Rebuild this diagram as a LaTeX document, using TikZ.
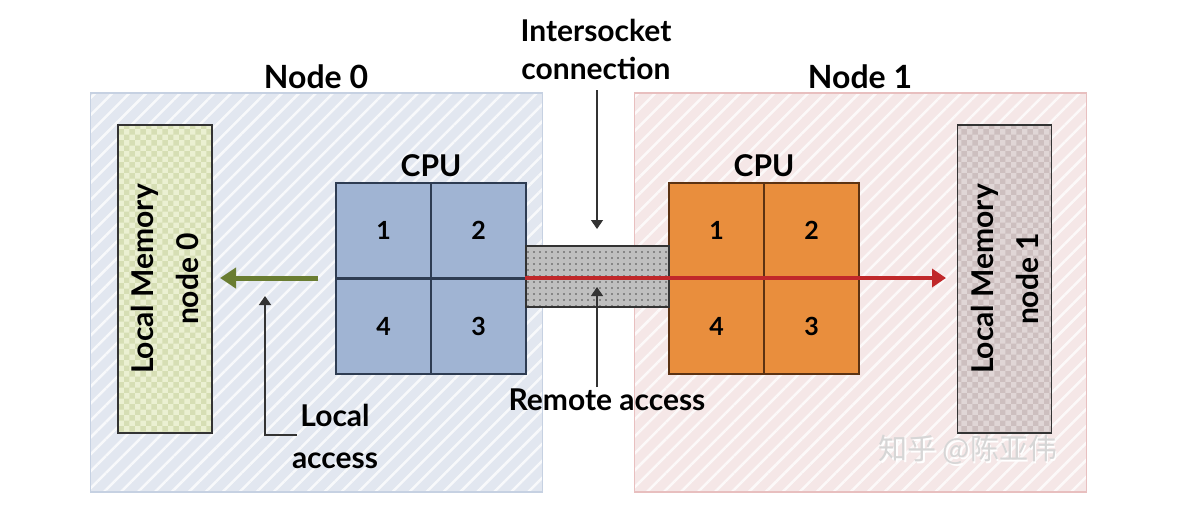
\documentclass[tikz,border=0pt]{standalone}
\usepackage{fontspec}
\setmainfont{Lato}
\newfontfamily\cjkfont{Noto Sans CJK SC}
\usetikzlibrary{patterns,patterns.meta,arrows.meta}

\definecolor{zoneA}{HTML}{E2E7F0}
\definecolor{zoneAedge}{HTML}{C6D1E2}
\definecolor{zoneB}{HTML}{F5E7E7}
\definecolor{zoneBedge}{HTML}{E8BFBF}
\definecolor{memA}{HTML}{EBF0D2}
\definecolor{memAdot}{HTML}{D6DEB4}
\definecolor{memB}{HTML}{E0D6D6}
\definecolor{memBdot}{HTML}{CDBFBF}
\definecolor{cpuA}{HTML}{A0B4D3}
\definecolor{cpuAedge}{HTML}{2E3C52}
\definecolor{cpuB}{HTML}{E98E3D}
\definecolor{cpuBedge}{HTML}{5C3212}
\definecolor{linkred}{HTML}{C0282A}
\definecolor{localgreen}{HTML}{6A7D32}
\definecolor{inkgray}{HTML}{333333}

\tikzset{
  lbl/.style={font=\bfseries\fontsize{30}{38}\selectfont, text=black, inner sep=0pt, align=center},
  zone/.style={draw=#1edge, line width=1.5pt, minimum width=452pt, minimum height=399pt, inner sep=0pt,
    preaction={fill=#1},
    pattern={Lines[angle=45,distance=12pt,line width=2.5pt]}, pattern color=white!75!#1},
  membox/.style={draw=inkgray, line width=1.5pt, minimum width=308pt, minimum height=94pt, inner sep=0pt,
    preaction={fill=#1}, pattern=checkerboard, pattern color=#1dot,
    font=\bfseries\fontsize{30}{45}\selectfont, align=center},
  cpucell/.style={draw=#1edge, line width=1.5pt, fill=#1, minimum size=95pt, inner sep=0pt,
    font=\bfseries\fontsize{25}{28}\selectfont},
  linkbar/.style={draw=inkgray, line width=1.5pt, minimum width=143pt, minimum height=61pt, inner sep=0pt,
    preaction={fill=black!25}, pattern={Dots[distance=6pt,radius=0.9pt]}, pattern color=black!70},
  pointer/.style={draw=inkgray, line width=1.3pt, -{Triangle[length=9pt,width=12pt]}},
  bigarrow/.style={draw=#1, line width=5pt, -{Triangle[length=16pt,width=20pt]}},
}

\begin{document}
\begin{tikzpicture}[x=1pt,y=-1pt]
\useasboundingbox[fill=white] (0,0) rectangle (1200,528);

% the two NUMA nodes
\node[zone=zoneA] (zone0) at (316.5,292.5) {};
\node[zone=zoneB] (zone1) at (860.5,292.5) {};
\node[lbl, font=\bfseries\fontsize{32}{36}\selectfont] (title0) at (316,77) {Node 0};
\node[lbl, font=\bfseries\fontsize{32}{36}\selectfont] (title1) at (860,77) {Node 1};

% local memories
\node[membox=memA, rotate=90] (mem0) at (165,279) {Local Memory\\node 0};
\node[membox=memB, rotate=90] (mem1) at (1004.5,279) {Local Memory\\node 1};

% CPU 0: four cores
\node[cpucell=cpuA] (a1) at (383.5,230.5) {1};
\node[cpucell=cpuA] (a2) at (478.5,230.5) {2};
\node[cpucell=cpuA] (a4) at (383.5,326.5) {4};
\node[cpucell=cpuA] (a3) at (478.5,326.5) {3};
\node[lbl] (cpu0) at (431,166) {CPU};

% CPU 1: four cores
\node[cpucell=cpuB] (b1) at (716.5,230.5) {1};
\node[cpucell=cpuB] (b2) at (811.5,230.5) {2};
\node[cpucell=cpuB] (b4) at (716.5,326.5) {4};
\node[cpucell=cpuB] (b3) at (811.5,326.5) {3};
\node[lbl] (cpu1) at (764,166) {CPU};

% interconnect between the sockets
\node[linkbar] (bar) at (597.5,276.5) {};

% remote access path
\coordinate (redend) at (946,278);
\draw[bigarrow=linkred, -{Triangle[length=14pt,width=18pt]}, line width=4.5pt] (bar.west |- redend) -- (redend);

% local access path
\coordinate (greenstart) at (318,278);
\coordinate (greenend) at (220,278);
\draw[bigarrow=localgreen] (greenstart) -- (greenend);

% labels and pointers
\node[lbl] (isc) at (596,49) {Intersocket\\connection};
\coordinate (isctip) at (597,229);
\draw[pointer] (597,90) -- (isctip);

\node[lbl] (remote) at (607,400) {Remote access};
\coordinate (remtip) at (597,287);
\draw[pointer] (597,387) -- (remtip);

\node[lbl, font=\bfseries\fontsize{30}{42}\selectfont] (local) at (335,436) {Local\\access};
\coordinate (elbow) at (297,435);
\coordinate (loctip) at (265,296);
\draw[pointer, line width=1.5pt] (elbow) -| (loctip);

% watermark
\node[font=\cjkfont\fontsize{29}{32}\selectfont, text=white, inner sep=0pt] (wm2) at (969.5,451.5) {知乎\hspace{6pt}@陈亚伟};
\node[font=\cjkfont\fontsize{29}{32}\selectfont, text=black!16, inner sep=0pt] (wm) at (968,450) {知乎\hspace{6pt}@陈亚伟};
\end{tikzpicture}
\end{document}
